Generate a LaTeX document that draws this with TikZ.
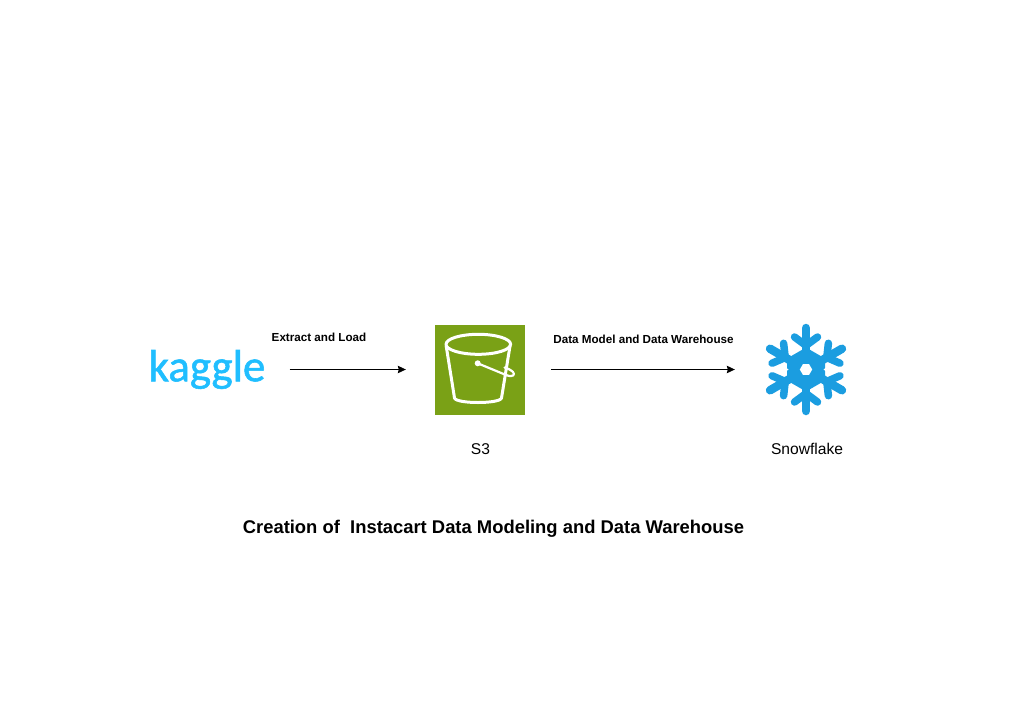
\documentclass[tikz,border=0pt]{standalone}
\usepackage{fontspec}
\setmainfont{Liberation Sans}
\newfontfamily\logofont[FakeBold=1.2]{Carlito}
\usetikzlibrary{arrows.meta}
\definecolor{kagglecol}{HTML}{20BEFF}
\definecolor{bucketcol}{HTML}{7AA116}
\definecolor{flakecol}{HTML}{1B9DE0}
\tikzset{
  flow/.style={-{Stealth[inset=1pt,length=8pt,width=7.5pt]}, line width=0.8pt},
  flowlabel/.style={font=\bfseries\fontsize{11.65}{14}\selectfont},
  caption/.style={font=\fontsize{15.6}{18}\selectfont},
  pail/.style={draw=white, line width=3pt, line cap=round, line join=round},
  flakeline/.style={draw=flakecol, line join=round, line cap=round},
}
\begin{document}
\begin{tikzpicture}[x=1pt,y=-1pt]
    \useasboundingbox (0,0) rectangle (1024,717);
    \node[text=kagglecol, inner sep=0pt, font=\logofont\fontsize{45}{50}\selectfont] (kaggle) at (207,369.5) {kaggle};
    \node[fill=bucketcol, minimum size=90pt, inner sep=0pt] (s3) at (480,369.5) {};
    \node[minimum size=86pt, inner sep=0pt] (snow) at (806,369.5) {};
    % bucket
    \draw[pail] (478.3,344.3) ellipse (32.3 and 10);
    \draw[pail] (446.2,346) -- (454.5,398) .. controls (456,404) and (500,404) .. (501.5,398) -- (510,346);
    \fill[white] (477.7,363.3) circle (3);
    \draw[pail, line width=2.2pt] (477.7,363.3) -- (506,375) .. controls (514,378) and (515,374) .. (513,372) .. controls (511,370) and (507,368) .. (504.5,367.5);
    % snowflake centre
    \fill[flakecol] (806,347.5) -- (825,358.5) -- (825,380.5) -- (806,391.5) -- (787,380.5) -- (787,358.5) -- cycle;
    \fill[white] (823.5,369.5) -- (833,362.5) -- (833,376.5) -- cycle;
    \fill[white] (788.5,369.5) -- (779,362.5) -- (779,376.5) -- cycle;
    % snowflake arms
    \foreach \ang in {0,60,...,300}{
      \begin{scope}[shift={(806,369.5)}, rotate=\ang]
        \draw[flakeline, line width=8.5pt] (0,-5) -- (0,-41.5);
        \draw[flakeline, line width=7.5pt] (-11.5,-32.5) -- (0,-24) -- (11.5,-32.5);
      \end{scope}
    }
    \fill[white] (812.2,369.5) -- (809.1,374.8) -- (802.9,374.8) -- (799.8,369.5) -- (802.9,364.2) -- (809.1,364.2) -- cycle;
    % arrows
    \draw[flow, shorten <=24pt, shorten >=29pt] (kaggle.east |- s3) -- (s3.west);
    \draw[flow, shorten <=26pt, shorten >=28pt] (s3.east) -- (snow.west);
    % labels
    \node[flowlabel] (extract) at (319,337) {Extract and Load};
    \node[flowlabel] (model) at (643.5,339) {Data Model and Data Warehouse};
    \node[caption] (s3text) at (480.5,449) {S3};
    \node[caption] (snowtext) at (807,449) {Snowflake};
    \node[font=\bfseries\fontsize{18.4}{20}\selectfont] (title) at (493.5,529) {Creation of\ \ Instacart Data Modeling and Data Warehouse};
\end{tikzpicture}
\end{document}
